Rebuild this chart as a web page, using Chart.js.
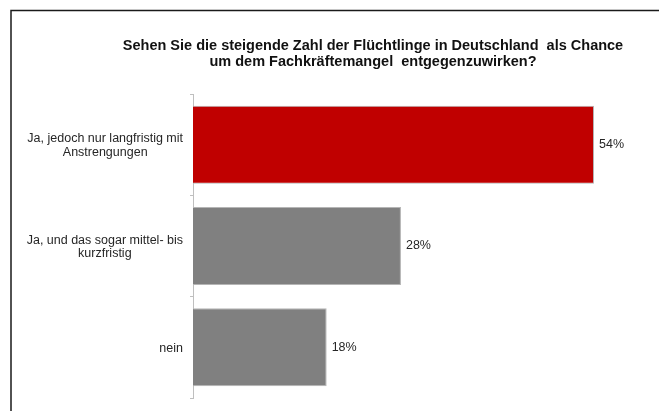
<!DOCTYPE html>
<html lang="de">
<head>
<meta charset="utf-8">
<title>Flüchtlinge und Fachkräftemangel</title>
<script src="https://cdn.jsdelivr.net/npm/chart.js@4/dist/chart.umd.min.js"></script>
<style>
  html, body { margin: 0; padding: 0; background: #fff; }
  canvas { display: block; }
</style>
</head>
<body>
<canvas id="chartFluechtlinge" width="659" height="411"></canvas>
<script>
// Antworten und Anteile in Prozent
const categories = [
    ['Ja, jedoch nur langfristig mit', 'Anstrengungen'],
    ['Ja, und das sogar mittel- bis', 'kurzfristig'],
    ['nein']
];
const values = [54, 28, 18];
const barColors = ['#C00000', '#808080', '#808080'];
const titleLines = [
    'Sehen Sie die steigende Zahl der Flüchtlinge in Deutschland  als Chance',
    'um dem Fachkräftemangel  entgegenzuwirken?'
];

const fontFamily = "'Liberation Sans', Arial, sans-serif";
const textColor = '#262626';

// Rahmen oben und links
const framePlugin = {
    id: 'frame',
    beforeDraw(chart) {
        const ctx = chart.ctx;
        ctx.save();
        ctx.strokeStyle = '#1a1a1a';
        ctx.lineWidth = 1.5;
        ctx.beginPath();
        ctx.moveTo(11, chart.height);
        ctx.lineTo(11, 10.5);
        ctx.lineTo(chart.width, 10.5);
        ctx.stroke();
        ctx.restore();
    }
};

// Titel etwas nach rechts versetzt zentrieren
const titleOffset = {
    id: 'titleOffset',
    afterLayout(chart) {
        chart.titleBlock.left = 100;
        chart.titleBlock.right = 646;
    }
};

// Kategorienamen: Block rechtsbündig an der Achse, Zeilen zentriert
const categoryLabels = {
    id: 'categoryLabels',
    afterDraw(chart) {
        const ctx = chart.ctx;
        const scale = chart.scales.y;
        const right = scale.right - 10;
        const lineHeight = 13.5;
        ctx.save();
        ctx.font = '12.5px ' + fontFamily;
        ctx.fillStyle = textColor;
        ctx.textAlign = 'center';
        ctx.textBaseline = 'middle';
        categories.forEach((lines, i) => {
            const y = scale.getPixelForTick(i) + 1;
            const blockWidth = Math.max(...lines.map(l => ctx.measureText(l).width));
            const x = right - blockWidth / 2;
            const y0 = y - (lines.length - 1) * lineHeight / 2;
            lines.forEach((line, j) => ctx.fillText(line, x, y0 + j * lineHeight));
        });
        ctx.restore();
    }
};

// Prozentwerte rechts neben den Balken
const valueLabels = {
    id: 'valueLabels',
    afterDatasetsDraw(chart) {
        const ctx = chart.ctx;
        const meta = chart.getDatasetMeta(0);
        ctx.save();
        ctx.font = '12.5px ' + fontFamily;
        ctx.fillStyle = textColor;
        ctx.textAlign = 'left';
        ctx.textBaseline = 'middle';
        meta.data.forEach((bar, i) => {
            ctx.fillText(values[i] + '%', bar.x + 5, bar.y);
        });
        ctx.restore();
    }
};

const chart = new Chart(document.getElementById('chartFluechtlinge'), {
    type: 'bar',
    data: {
        labels: categories.map(l => l.join(' ')),
        datasets: [{
            data: values,
            backgroundColor: barColors,
            borderColor: '#b5b5b5',
            borderWidth: 1,
            barPercentage: 0.77,
            categoryPercentage: 1
        }]
    },
    options: {
        indexAxis: 'y',
        responsive: false,
        animation: false,
        layout: {
            padding: { left: 12, right: 13, top: 0, bottom: 13 }
        },
        plugins: {
            legend: { display: false },
            tooltip: { enabled: false },
            title: {
                display: true,
                text: titleLines,
                color: '#111',
                font: { family: fontFamily, size: 14.5, weight: 'bold', lineHeight: 1.14 },
                padding: { top: 37.5, bottom: 23.5 }
            }
        },
        scales: {
            x: {
                display: false,
                min: 0,
                max: 61
            },
            y: {
                afterFit(scale) {
                    scale.width = 181;
                },
                grid: {
                    drawOnChartArea: false,
                    tickLength: 3,
                    color: '#bfbfbf'
                },
                border: { color: '#bfbfbf' },
                ticks: {
                    display: false
                }
            }
        }
    },
    plugins: [framePlugin, titleOffset, categoryLabels, valueLabels]
});
</script>
</body>
</html>
